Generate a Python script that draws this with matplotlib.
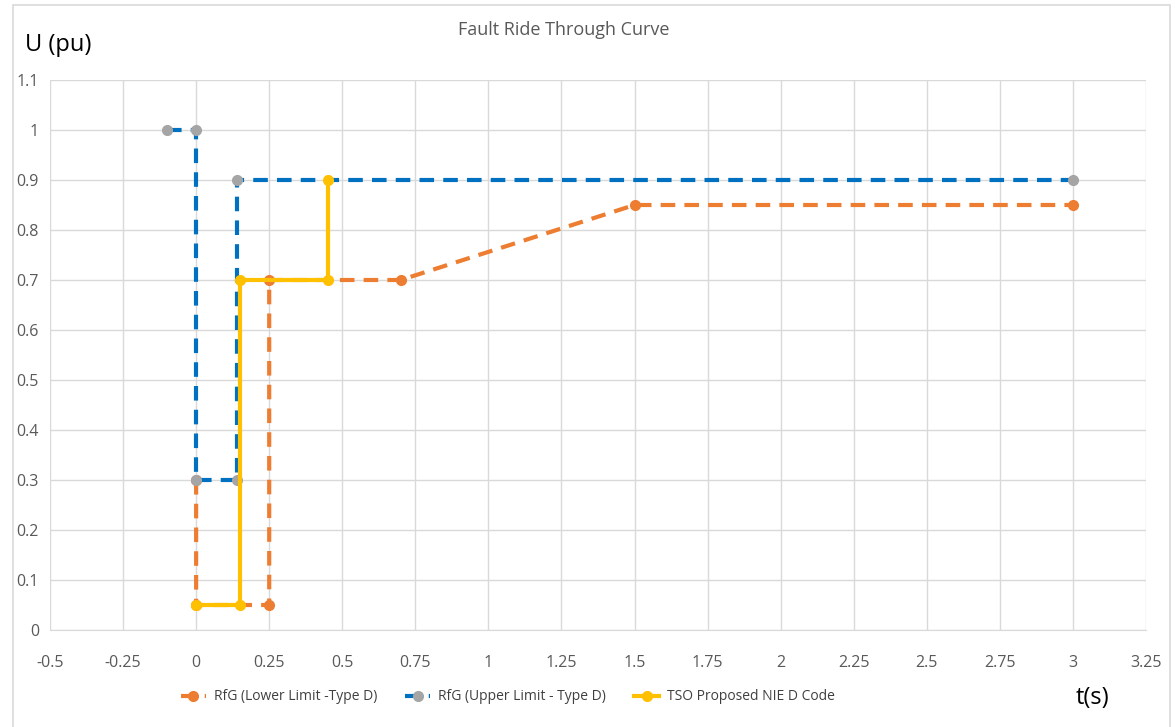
import matplotlib.pyplot as plt
from matplotlib.patches import Rectangle

plt.rcParams["font.family"] = ["Liberation Sans Narrow", "Open Sans", "DejaVu Sans"]

# series data
lower_t = [0, 0, 0.25, 0.25, 0.7, 1.5, 3]
lower_u = [0.3, 0.05, 0.05, 0.7, 0.7, 0.85, 0.85]

upper_t = [-0.1, 0, 0, 0.14, 0.14, 3]
upper_u = [1.0, 1.0, 0.3, 0.3, 0.9, 0.9]

tso_t = [0, 0.15, 0.15, 0.45, 0.45]
tso_u = [0.05, 0.05, 0.7, 0.7, 0.9]

x_ticks = [-0.5, -0.25, 0, 0.25, 0.5, 0.75, 1, 1.25, 1.5, 1.75, 2, 2.25, 2.5, 2.75, 3, 3.25]
x_labels = ["-0.5", "-0.25", "0", "0.25", "0.5", "0.75", "1", "1.25", "1.5", "1.75",
            "2", "2.25", "2.5", "2.75", "3", "3.25"]
y_ticks = [0, 0.1, 0.2, 0.3, 0.4, 0.5, 0.6, 0.7, 0.8, 0.9, 1.0, 1.1]
y_labels = ["0", "0.1", "0.2", "0.3", "0.4", "0.5", "0.6", "0.7", "0.8", "0.9", "1", "1.1"]

orange = "#ED7D31"
blue = "#0070C0"
grey = "#A5A5A5"
yellow = "#FFC000"
text_grey = "#595959"

fig = plt.figure(figsize=(11.75, 7.27), dpi=100)
ax = fig.add_axes([50 / 1175, 97 / 727, 1096 / 1175, 550 / 727])

# chart border
fig.patches.append(Rectangle((13 / 1175, -0.01), 1157 / 1175, 1 - 5 / 727 + 0.01,
                             transform=fig.transFigure, fill=False,
                             edgecolor="#D9D9D9", linewidth=1.2, zorder=-1))

dash = (0, (3.5, 2.2))
ax.plot(lower_t, lower_u, linestyle=dash, color=orange, linewidth=3,
        marker="o", markersize=7, markerfacecolor=orange, markeredgecolor=orange,
        label="RfG (Lower Limit -Type D)", zorder=3)
ax.plot(upper_t, upper_u, linestyle=dash, color=blue, linewidth=3,
        marker="o", markersize=7, markerfacecolor=grey, markeredgecolor=grey,
        label="RfG (Upper Limit - Type D)", zorder=4)
ax.plot(tso_t, tso_u, linestyle="-", color=yellow, linewidth=3,
        marker="o", markersize=7, markerfacecolor=yellow, markeredgecolor=yellow,
        label="TSO Proposed NIE D Code", zorder=5)

ax.set_xlim(-0.5, 3.25)
ax.set_ylim(0, 1.1)
ax.set_xticks(x_ticks)
ax.set_xticklabels(x_labels)
ax.set_yticks(y_ticks)
ax.set_yticklabels(y_labels)
ax.tick_params(axis="both", length=0, labelsize=11.5, colors=text_grey)
ax.tick_params(axis="x", pad=18)
ax.tick_params(axis="y", pad=8)
ax.grid(color="#D9D9D9", linewidth=1)
ax.set_axisbelow(True)
for side in ["top", "left", "right"]:
    ax.spines[side].set_visible(False)
ax.spines["bottom"].set_color("#D9D9D9")

fig.text(564 / 1175, 1 - 30 / 727, "Fault Ride Through Curve", ha="center", va="center",
         fontsize=13, color=text_grey)
fig.text(25 / 1175, 1 - 45 / 727, "U (pu)", ha="left", va="center", fontsize=17,
         family=["Open Sans", "DejaVu Sans"])
fig.text(1092 / 1175, 1 - 698 / 727, "t(s)", ha="center", va="center", fontsize=17,
         family=["Open Sans", "DejaVu Sans"])

leg = fig.legend(loc="center", bbox_to_anchor=(508 / 1175, 1 - 697 / 727), ncol=3,
                 frameon=False, fontsize=10, handlelength=1.8, columnspacing=2.0,
                 handletextpad=0.6, labelcolor="#404040")

fig.savefig("out.png", dpi=100)
